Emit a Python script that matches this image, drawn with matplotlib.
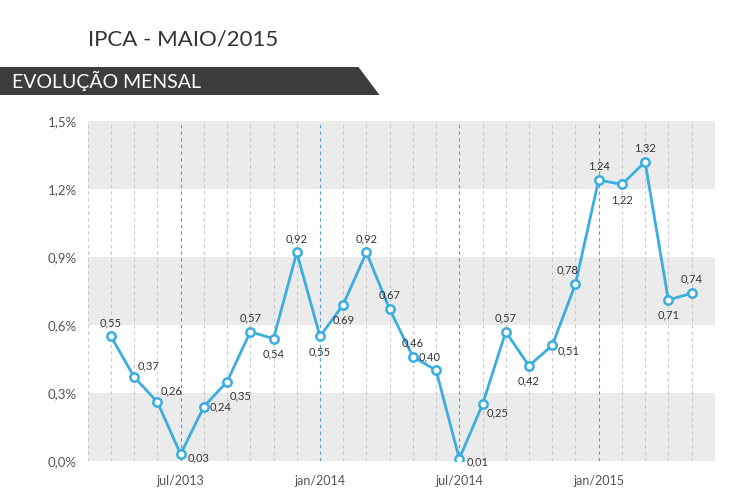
import matplotlib
matplotlib.use("Agg")
import matplotlib.pyplot as plt
from matplotlib.patches import Polygon

values = [0.55,0.37,0.26,0.03,0.24,0.35,0.57,0.54,0.92,0.55,0.69,0.92,0.67,0.46,0.40,0.01,0.25,0.57,0.42,0.51,0.78,1.24,1.22,1.32,0.71,0.74]
xtick_pos = [3, 9, 15, 21]
xtick_labels = ["jul/2013", "jan/2014", "jul/2014", "jan/2015"]
yticks = [0, 0.3, 0.6, 0.9, 1.2, 1.5]
ytick_labels = ["0,0%", "0,3%", "0,6%", "0,9%", "1,2%", "1,5%"]
# label offsets (points)
offsets = [(0,10),(10,8),(10,8),(13,-3),(12,0),(10,-10),(0,10),(0,-11),(0,10),(0,-11),(0,-11),(0,10),
           (0,10),(0,10),(-5,10),(13,-2),(11,-6),(0,10),(0,-11),(12,-4),(-6,10),(0,10),(0,-11),(0,10),(0,-11),(0,10)]

font = "Lato"
fig = plt.figure(figsize=(7.5,5), dpi=100)
ax = fig.add_axes([0.117, 0.078, 0.836, 0.68])
ax.set_xlim(-1, 26)
ax.set_ylim(0, 1.5)
for i, lo in enumerate(yticks[:-1]):
    ax.axhspan(lo, lo+0.3, color="#ebebeb" if i % 2 == 0 else "white", zorder=0, lw=0)
for i in range(-1, 27):
    c = "#5b9bd5" if i in xtick_pos else "#c8c8c8"
    ax.axvline(i, color=c, ls=(0,(3,3)), lw=0.8, zorder=1)
x = list(range(len(values)))
ax.plot(x, values, color="#3aaee0", lw=2, marker="o", ms=6, mfc="white", mec="#3aaee0", mew=1.8, zorder=3)
for xi, v, (dx, dy) in zip(x, values, offsets):
    ax.annotate(f"{v:.2f}".replace(".", ","), (xi, v), xytext=(dx, dy), textcoords="offset points",
                ha="center", va="center", fontsize=8, color="#333333", family=font)
for s in ax.spines.values():
    s.set_visible(False)
ax.set_xticks(xtick_pos)
ax.set_xticklabels(xtick_labels, family=font, fontsize=9, color="#555555")
ax.set_yticks(yticks)
ax.set_yticklabels(ytick_labels, family=font, fontsize=9.5, color="#555555")
ax.tick_params(length=0, pad=8)
ax.tick_params(axis="x", pad=10)

fig.text(0.117, 0.92, "IPCA - MAIO/2015", family=font, fontsize=16, color="#333333", va="center")
poly = Polygon([[0,0.866],[0.478,0.866],[0.506,0.81],[0,0.81]], closed=True, transform=fig.transFigure,
               facecolor="#3d3d3d", edgecolor="none")
fig.patches.append(poly)
fig.text(0.016, 0.838, "EVOLUÇÃO MENSAL", family=font, fontsize=14, color="white", va="center")
fig.savefig("out.png", dpi=100)
